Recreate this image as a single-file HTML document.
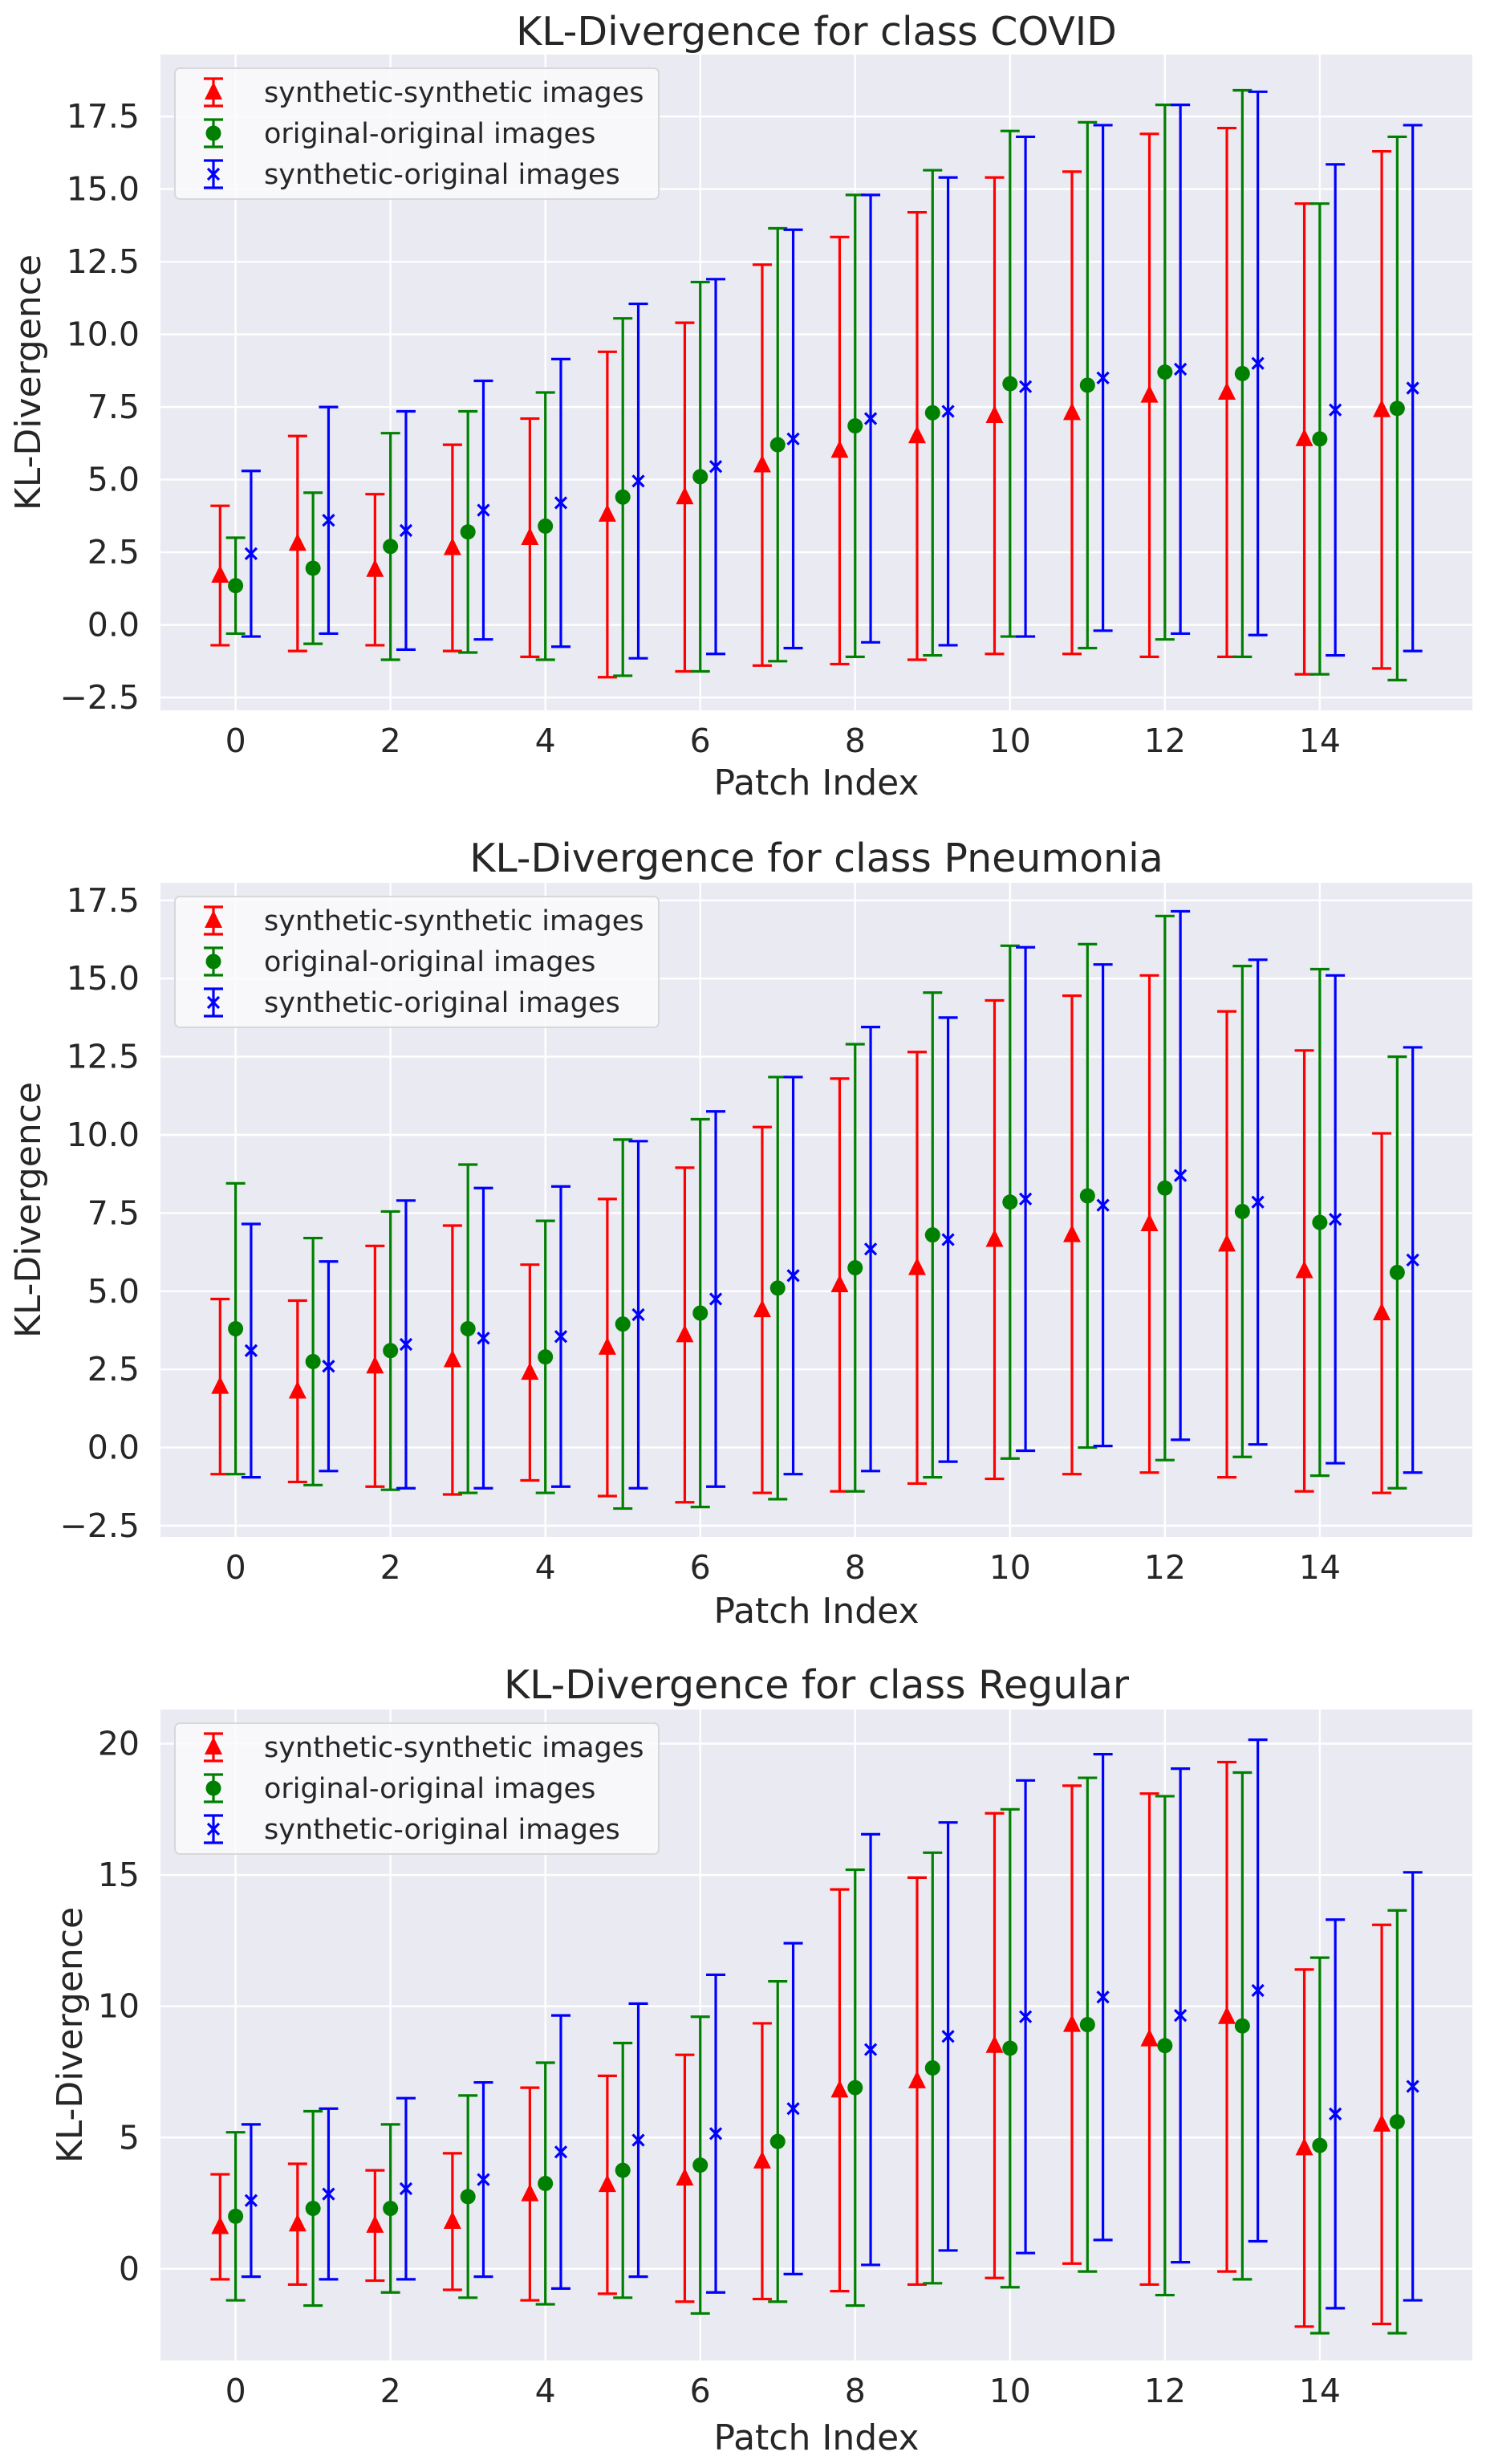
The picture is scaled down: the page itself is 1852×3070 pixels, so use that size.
<!DOCTYPE html>
<html><head><meta charset="utf-8"><style>
html,body{margin:0;padding:0;background:#fff}
svg{display:block;font-family:"DejaVu Sans","Liberation Sans",sans-serif}
</style></head><body>
<svg id="fig" width="1852" height="3070" viewBox="0 0 1852 3070" xmlns="http://www.w3.org/2000/svg"></svg>
<script>
const patches = [0,1,2,3,4,5,6,7,8,9,10,11,12,13,14,15];
const xTicks = [0,2,4,6,8,10,12,14];
const seriesNames = ["synthetic-synthetic images","original-original images","synthetic-original images"];

const covidSynSynMean = [1.7,2.8,1.9,2.65,3.0,3.8,4.4,5.5,6.0,6.5,7.2,7.3,7.9,8.0,6.4,7.4];
const covidSynSynStd  = [2.4,3.7,2.6,3.55,4.1,5.6,6.0,6.9,7.35,7.7,8.2,8.3,9.0,9.1,8.1,8.9];
const covidOrigOrigMean = [1.35,1.95,2.7,3.2,3.4,4.4,5.1,6.2,6.85,7.3,8.3,8.25,8.7,8.65,6.4,7.45];
const covidOrigOrigStd  = [1.65,2.6,3.9,4.15,4.6,6.15,6.7,7.45,7.95,8.35,8.7,9.05,9.2,9.75,8.1,9.35];
const covidSynOrigMean = [2.45,3.6,3.25,3.95,4.2,4.95,5.45,6.4,7.1,7.35,8.2,8.5,8.8,9.0,7.4,8.15];
const covidSynOrigStd  = [2.85,3.9,4.1,4.45,4.95,6.1,6.45,7.2,7.7,8.05,8.6,8.7,9.1,9.35,8.45,9.05];
const covidYTicks = [-2.5,0.0,2.5,5.0,7.5,10.0,12.5,15.0,17.5];
const covidYTickLabels = ["\u22122.5","0.0","2.5","5.0","7.5","10.0","12.5","15.0","17.5"];

const pneuSynSynMean = [1.95,1.8,2.6,2.8,2.4,3.2,3.6,4.4,5.2,5.75,6.65,6.8,7.15,6.5,5.65,4.3];
const pneuSynSynStd  = [2.8,2.9,3.85,4.3,3.45,4.75,5.35,5.85,6.6,6.9,7.65,7.65,7.95,7.45,7.05,5.75];
const pneuOrigOrigMean = [3.8,2.75,3.1,3.8,2.9,3.95,4.3,5.1,5.75,6.8,7.85,8.05,8.3,7.55,7.2,5.6];
const pneuOrigOrigStd  = [4.65,3.95,4.45,5.25,4.35,5.9,6.2,6.75,7.15,7.75,8.2,8.05,8.7,7.85,8.1,6.9];
const pneuSynOrigMean = [3.1,2.6,3.3,3.5,3.55,4.25,4.75,5.5,6.35,6.65,7.95,7.75,8.7,7.85,7.3,6.0];
const pneuSynOrigStd  = [4.05,3.35,4.6,4.8,4.8,5.55,6.0,6.35,7.1,7.1,8.05,7.7,8.45,7.75,7.8,6.8];
const pneuYTicks = [-2.5,0.0,2.5,5.0,7.5,10.0,12.5,15.0,17.5];
const pneuYTickLabels = ["\u22122.5","0.0","2.5","5.0","7.5","10.0","12.5","15.0","17.5"];

const regSynSynMean = [1.6,1.7,1.65,1.8,2.85,3.2,3.45,4.1,6.8,7.15,8.5,9.3,8.75,9.6,4.6,5.5];
const regSynSynStd  = [2.0,2.3,2.1,2.6,4.05,4.15,4.7,5.25,7.65,7.75,8.85,9.1,9.35,9.7,6.8,7.6];
const regOrigOrigMean = [2.0,2.3,2.3,2.75,3.25,3.75,3.95,4.85,6.9,7.65,8.4,9.3,8.5,9.25,4.7,5.6];
const regOrigOrigStd  = [3.2,3.7,3.2,3.85,4.6,4.85,5.65,6.1,8.3,8.2,9.1,9.4,9.5,9.65,7.15,8.05];
const regSynOrigMean = [2.6,2.85,3.05,3.4,4.45,4.9,5.15,6.1,8.35,8.85,9.6,10.35,9.65,10.6,5.9,6.95];
const regSynOrigStd  = [2.9,3.25,3.45,3.7,5.2,5.2,6.05,6.3,8.2,8.15,9.0,9.25,9.4,9.55,7.4,8.15];
const regYTicks = [0,5,10,15,20];
const regYTickLabels = ["0","5","10","15","20"];

const NS = "http://www.w3.org/2000/svg";
const svg = document.getElementById('fig');
function mk(tag, attrs, parent){
  const e = document.createElementNS(NS, tag);
  for (const k in attrs) e.setAttribute(k, attrs[k]);
  (parent||svg).appendChild(e);
  return e;
}
const colors = ["#ff0000","#008000","#0000ff"];
const offsets = [-0.2,0,0.2];
const L = 200, R = 1835;
const xMin = -0.97, xMax = 15.97;

function drawPanel(cfg){
  const g = mk('g', {});
  
  
  const T = cfg.top, B = cfg.bottom;
  const xs = v => L + (v - xMin) / (xMax - xMin) * (R - L);
  const ys = v => B - (v - cfg.yMin) / (cfg.yMax - cfg.yMin) * (B - T);
  const bg = mk('rect', {x:L, y:T, width:R-L, height:B-T, fill:'#eaeaf2'}, g);
  
  
  xTicks.forEach(t => {
    const x = xs(t);
    const gl = mk('line', {x1:x, x2:x, y1:T, y2:B, stroke:'#fff', 'stroke-width':2.4}, g);
    
    
    const tl = mk('text', {x:x, y:B+52, 'font-size':41, fill:'#262626', 'text-anchor':'middle'}, g);
    
    
    tl.textContent = String(t);
  });
  cfg.yTicks.forEach((t, i) => {
    const y = ys(t);
    const gl = mk('line', {x1:L, x2:R, y1:y, y2:y, stroke:'#fff', 'stroke-width':2.4}, g);
    
    
    const tl = mk('text', {x:L-26, y:y+14, 'font-size':41, fill:'#262626', 'text-anchor':'end'}, g);
    
    
    tl.textContent = cfg.yLabels[i];
  });
  cfg.series.forEach((s, si) => {
    const c = colors[si];
    patches.forEach((p, i) => {
      const x = xs(p + offsets[si]);
      const m = s.mean[i], sd = s.std[i];
      const y1 = ys(m - sd), y2 = ys(m + sd), ym = ys(m);
      const eb = mk('g', {stroke:c, 'stroke-width':3.2, fill:c}, g);
      
      
      mk('line', {x1:x, x2:x, y1:y1, y2:y2}, eb);
      mk('line', {x1:x-12, x2:x+12, y1:y1, y2:y1}, eb);
      mk('line', {x1:x-12, x2:x+12, y1:y2, y2:y2}, eb);
      drawMarker(si, x, ym, eb);
    });
  });
  const t = mk('text', {x:(L+R)/2, y:cfg.titleY, 'font-size':49, fill:'#262626', 'text-anchor':'middle'}, g);
  
  
  t.textContent = cfg.title;
  const xl = mk('text', {x:(L+R)/2, y:cfg.xLabelY, 'font-size':44, fill:'#262626', 'text-anchor':'middle'}, g);
  
  
  xl.textContent = 'Patch Index';
  const cy = (T+B)/2;
  const lx = cfg.yLabelX;
  const yl = mk('text', {x:lx, y:cy, 'font-size':44, fill:'#262626', 'text-anchor':'middle', transform:'rotate(-90 '+lx+' '+cy+')'}, g);
  
  
  yl.textContent = 'KL-Divergence';
  const lg = mk('g', {}, g);
  
  
  mk('rect', {x:218, y:T+17, width:603, height:163, rx:6, fill:'#fafafc', 'fill-opacity':0.85, stroke:'#d8d8dc', 'stroke-width':2}, lg);
  seriesNames.forEach((n, si) => {
    const ey = T + 47 + si*51;
    const le = mk('g', {stroke:colors[si], 'stroke-width':3.2, fill:colors[si]}, lg);
    
    
    mk('line', {x1:266, x2:266, y1:ey-17, y2:ey+17}, le);
    mk('line', {x1:254, x2:278, y1:ey-17, y2:ey-17}, le);
    mk('line', {x1:254, x2:278, y1:ey+17, y2:ey+17}, le);
    drawMarker(si, 266, ey, le);
    const tx = mk('text', {x:329, y:ey+12, 'font-size':35, fill:'#262626', stroke:'none'}, lg);
    
    
    tx.textContent = n;
  });
}
function drawMarker(si, x, y, parent){
  if (si === 0) mk('polygon', {points:(x)+','+(y-13)+' '+(x-11)+','+(y+9)+' '+(x+11)+','+(y+9), stroke:'none'}, parent);
  else if (si === 1) mk('circle', {cx:x, cy:y, r:9.5, stroke:'none'}, parent);
  else {
    mk('line', {x1:x-7, x2:x+7, y1:y-7, y2:y+7}, parent);
    mk('line', {x1:x-7, x2:x+7, y1:y+7, y2:y-7}, parent);
  }
}
drawPanel({name:'covid', title:'KL-Divergence for class COVID', top:68, bottom:885, yMin:-2.94, yMax:19.63, yLabelX:50,
  yTicks:covidYTicks, yLabels:covidYTickLabels, titleY:56, xLabelY:990, keys:['syn-syn','orig-orig','syn-orig'],
  series:[{mean:covidSynSynMean,std:covidSynSynStd},{mean:covidOrigOrigMean,std:covidOrigOrigStd},{mean:covidSynOrigMean,std:covidSynOrigStd}]});
drawPanel({name:'pneumonia', title:'KL-Divergence for class Pneumonia', top:1100, bottom:1915, yMin:-2.86, yMax:18.06, yLabelX:50,
  yTicks:pneuYTicks, yLabels:pneuYTickLabels, titleY:1086, xLabelY:2022, keys:['syn-syn','orig-orig','syn-orig'],
  series:[{mean:pneuSynSynMean,std:pneuSynSynStd},{mean:pneuOrigOrigMean,std:pneuOrigOrigStd},{mean:pneuSynOrigMean,std:pneuSynOrigStd}]});
drawPanel({name:'regular', title:'KL-Divergence for class Regular', top:2130, bottom:2941, yMin:-3.49, yMax:21.3, yLabelX:102,
  yTicks:regYTicks, yLabels:regYTickLabels, titleY:2116, xLabelY:3052, keys:['syn-syn','orig-orig','syn-orig'],
  series:[{mean:regSynSynMean,std:regSynSynStd},{mean:regOrigOrigMean,std:regOrigOrigStd},{mean:regSynOrigMean,std:regSynOrigStd}]});
</script>
</body></html>
